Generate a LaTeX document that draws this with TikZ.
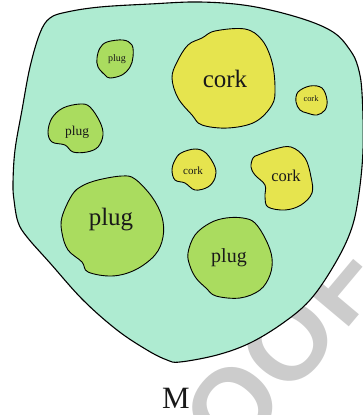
\documentclass[tikz,border=0pt]{standalone}
\usepackage{fontspec}
\setmainfont{Liberation Serif}
\newfontfamily\wmfont{Liberation Sans}
\definecolor{mint}{HTML}{AEEBD1}
\definecolor{plugc}{HTML}{AADC5F}
\definecolor{corkc}{HTML}{E6E44E}
\definecolor{wmgray}{HTML}{CCCCCC}
\tikzset{
  outer/.style={draw=black, line width=1.1pt, fill=mint},
  plugblob/.style={draw=black, line width=0.9pt, fill=plugc},
  corkblob/.style={draw=black, line width=0.9pt, fill=corkc},
  lbl/.style={inner sep=0pt, text=black!90},
}
\begin{document}
\begin{tikzpicture}[x=1pt,y=-1pt]
\useasboundingbox (0,0) rectangle (363,415);
% watermark
\node[inner sep=0pt, text=wmgray, rotate=50, font=\wmfont\bfseries\fontsize{110}{110}\selectfont] (wm) at (233,407) {PROOF};
% outer set
\draw[outer] plot[smooth cycle, tension=0.6] coordinates {
 (67,12) (100,7) (150,4) (200,2) (250,6) (300,18) (333,32) (350,50) (358,67) (362,93)
 (363,150) (358,200) (350,233) (333,267) (310,300) (283,323) (250,343) (217,355)
 (180,362) (167,360) (147,350) (117,330) (83,300) (50,263) (27,237) (18,222)
 (14,200) (13,183) (15,150) (22,110) (30,67) (40,33) (50,18)};
% big cork
\draw[corkblob] plot[smooth cycle, tension=0.6] coordinates {
 (215,31) (245,29) (262,40) (272,62) (275,88) (272,105) (255,122) (228,128)
 (202,125) (192,115) (178,98) (172,78) (177,62) (188,45) (202,38)};
% big plug
\draw[plugblob] plot[smooth cycle, tension=0.6] coordinates {
 (98,180) (122,176) (135,179) (152,197) (162,217) (163,237) (155,255) (135,270)
 (112,276) (88,272) (82,262) (68,250) (62,233) (62,217) (72,195) (82,186)};
% bottom plug
\draw[plugblob] plot[smooth cycle, tension=0.6] coordinates {
 (210,223) (226,218) (243,218) (255,223) (266,240) (272,258) (270,275) (260,290)
 (240,298) (216,296) (206,288) (196,278) (190,266) (188,253) (195,235)};
% middle cork
\draw[corkblob] plot[smooth cycle, tension=0.6] coordinates {
 (181,153) (195,149) (206,153) (215,167) (215,178) (208,187) (195,190) (185,183)
 (175,180) (172,170) (175,160)};
% right cork
\draw[corkblob] plot[smooth cycle, tension=0.6] coordinates {
 (258,155) (275,149) (291,147) (305,158) (311,177) (312,193) (301,205) (285,210)
 (268,207) (265,197) (265,185) (255,175) (251,167) (253,158)};
% small plug top
\draw[plugblob] plot[smooth cycle, tension=0.6] coordinates {
 (107,42) (123,40) (132,45) (133,57) (130,67) (122,75) (110,78) (105,75)
 (98,67) (97,58) (100,48)};
% left plug
\draw[plugblob] plot[smooth cycle, tension=0.6] coordinates {
 (63,108) (80,104) (90,107) (100,122) (103,135) (98,147) (87,152) (73,152)
 (65,145) (52,142) (48,132) (52,118)};
% small cork right
\draw[corkblob] plot[smooth cycle, tension=0.6] coordinates {
 (298,92) (310,86) (322,88) (327,100) (325,110) (317,115) (307,113) (300,110) (296,102)};
% labels
\node[lbl, font=\fontsize{25}{25}\selectfont] (l1) at (225,79) {cork};
\node[lbl, font=\fontsize{25}{25}\selectfont] (l2) at (111,220) {plug};
\node[lbl, font=\fontsize{20}{20}\selectfont] (l3) at (229,258) {plug};
\node[lbl, font=\fontsize{11}{11}\selectfont] (l4) at (193,171) {cork};
\node[lbl, font=\fontsize{16.5}{16.5}\selectfont] (l5) at (286,176) {cork};
\node[lbl, font=\fontsize{10}{10}\selectfont] (l6) at (117,59) {plug};
\node[lbl, font=\fontsize{13.5}{13.5}\selectfont] (l7) at (77,132) {plug};
\node[lbl, font=\fontsize{8.4}{8.4}\selectfont] (l8) at (311,99) {cork};
\node[lbl, font=\fontsize{31}{31}\selectfont] (m) at (176,398) {M};
\end{tikzpicture}
\end{document}
